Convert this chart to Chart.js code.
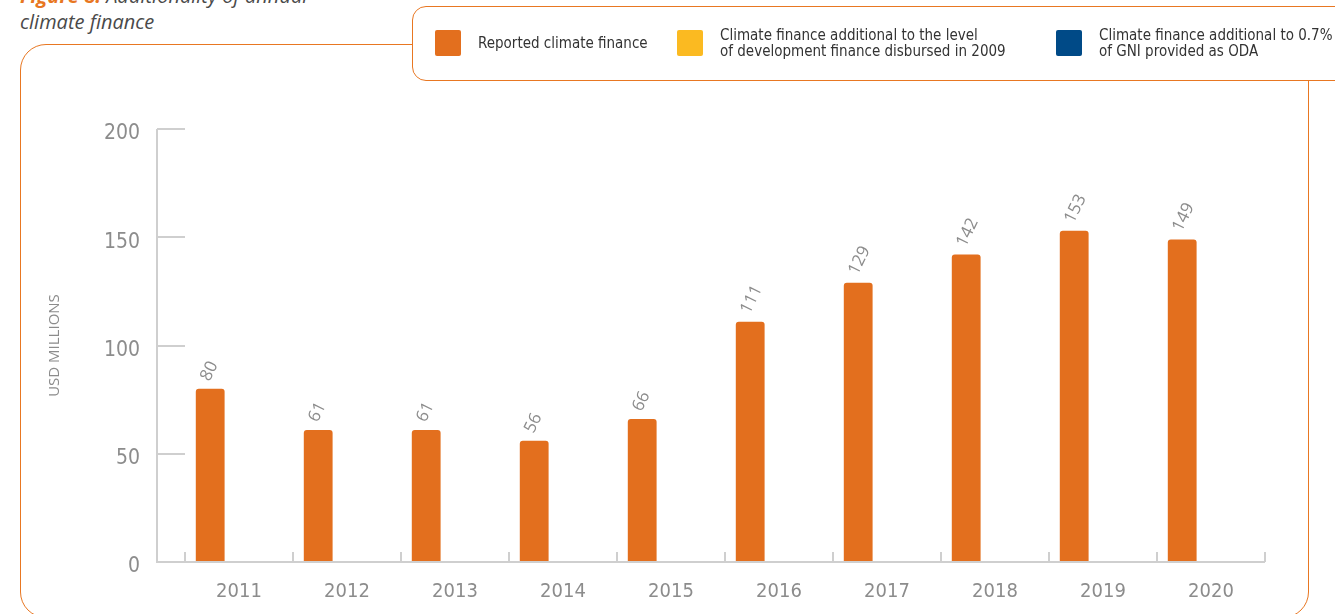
<!DOCTYPE html>
<html>
<head>
<meta charset="utf-8">
<script src="https://cdn.jsdelivr.net/npm/chart.js@4/dist/chart.umd.min.js"></script>
<style>
  body { margin: 0; background: #fff; overflow: hidden; }
  #wrap { position: relative; width: 1335px; height: 614px; }
  #title { position: absolute; left: 20px; top: -17px; font-family: "Open Sans", "Liberation Sans", sans-serif;
           font-style: italic; font-size: 20px; line-height: 26px; color: #4a4a4a; }
  #title b { color: #E87722; }
  #frame { position: absolute; left: 20px; top: 44px; width: 1289px; height: 574px;
           border: 1.5px solid #E87722; border-radius: 26px; box-sizing: border-box; }
  #legend { position: absolute; left: 412px; top: 6px; width: 960px; height: 75px; background: #fff;
            border: 1.5px solid #E87722; border-radius: 14px; box-sizing: border-box;
            font-family: "Liberation Sans Narrow", "DejaVu Sans Condensed", "Roboto", sans-serif;
            font-size: 15px; line-height: 16px; color: #333; }
  .item { position: absolute; top: 0; height: 72px; display: flex; align-items: center; }
  .sw { width: 26px; height: 26px; border-radius: 2px; margin-right: 17px; flex: none; }
  canvas { position: absolute; left: 0; top: 0; }
</style>
</head>
<body>
<div id="wrap">
  <div id="title"><b>Figure 8:</b> Additionality of annual<br>climate finance</div>
  <div id="frame"></div>
  <canvas id="climateChart" width="1335" height="614"></canvas>
  <div id="legend"></div>
</div>
<script>
const years = ["2011", "2012", "2013", "2014", "2015", "2016", "2017", "2018", "2019", "2020"];
const reported = [80, 61, 61, 56, 66, 111, 129, 142, 153, 149];
const additional2009 = [null, null, null, null, null, null, null, null, null, null];
const additionalODA = [null, null, null, null, null, null, null, null, null, null];
const seriesNames = [
  ["Reported climate finance"],
  ["Climate finance additional to the level", "of development finance disbursed in 2009"],
  ["Climate finance additional to 0.7%", "of GNI provided as ODA"]
];
const seriesColors = ["#E36F1E", "#FBBA21", "#004A87"];
const yTicks = [0, 50, 100, 150, 200];

// html legend (two-line labels)
const legendX = [22, 264, 643];
const legend = document.getElementById('legend');
seriesNames.forEach((lines, i) => {
  const div = document.createElement('div');
  div.className = 'item';
  div.style.left = legendX[i] + 'px';
  div.innerHTML = '<span class="sw" style="background:' + seriesColors[i] + '"></span><span>' + lines.join('<br>') + '</span>';
  legend.appendChild(div);
});

const grey = "#8c8c8c";
const lineGrey = "#cfcfcf";
const narrow = '"Liberation Sans Narrow", "DejaVu Sans Condensed", sans-serif';

// rotated value labels above bars
const valueLabels = {
  id: 'valueLabels',
  afterDatasetsDraw(chart) {
    const ctx = chart.ctx;
    const meta = chart.getDatasetMeta(0);
    ctx.save();
    ctx.fillStyle = grey;
    ctx.font = '17px "Open Sans", sans-serif';
    ctx.textAlign = 'left';
    ctx.textBaseline = 'middle';
    meta.data.forEach((bar, i) => {
      ctx.save();
      ctx.translate(bar.x - 5, bar.y - 9);
      ctx.rotate(-64 * Math.PI / 180);
      ctx.fillText(String(reported[i]), 0, 0);
      ctx.restore();
    });
    ctx.restore();
  }
};

// vertical axis line and x axis line start left of the plot, as in the original
const axisFrame = {
  id: 'axisFrame',
  beforeDatasetsDraw(chart) {
    const { ctx, scales: { x, y } } = chart;
    const left = y.right - 28;
    const bottom = y.getPixelForValue(0);
    ctx.save();
    ctx.strokeStyle = lineGrey;
    ctx.lineWidth = 2;
    ctx.beginPath();
    ctx.moveTo(left, y.getPixelForValue(200));
    ctx.lineTo(left, bottom);
    ctx.lineTo(x.right, bottom);
    ctx.stroke();
    ctx.restore();
  }
};

new Chart(document.getElementById('climateChart'), {
  type: 'bar',
  data: {
    labels: years,
    datasets: [
      { label: seriesNames[0].join(' '), data: reported, backgroundColor: seriesColors[0] },
      { label: seriesNames[1].join(' '), data: additional2009, backgroundColor: seriesColors[1] },
      { label: seriesNames[2].join(' '), data: additionalODA, backgroundColor: seriesColors[2] }
    ]
  },
  options: {
    responsive: false,
    animation: false,
    layout: { padding: { left: 25, right: 70, top: 129, bottom: 12 } },
    datasets: {
      bar: { categoryPercentage: 0.8, barPercentage: 1.0, borderRadius: { topLeft: 3, topRight: 3 } }
    },
    plugins: { legend: { display: false }, tooltip: { enabled: false } },
    scales: {
      x: {
        afterFit(scale) { scale.height = 40; },
        border: { display: false },
        grid: { drawOnChartArea: false, tickLength: -10, color: lineGrey, lineWidth: 2 },
        ticks: { color: grey, padding: 28, font: { family: narrow, size: 20 } }
      },
      y: {
        min: 0, max: 200,
        afterFit(scale) { scale.width = 160; },
        afterBuildTicks(scale) { scale.ticks = yTicks.map(v => ({ value: v })); },
        border: { display: false },
        grid: { drawOnChartArea: false, tickLength: 28, color: lineGrey, lineWidth: 2 },
        ticks: { color: grey, padding: 17, labelOffset: 5, font: { family: narrow, size: 21 } },
        title: { display: true, text: 'USD MILLIONS', color: grey, padding: { top: 21 },
                 font: { family: '"Open Sans", sans-serif', size: 15 } }
      }
    }
  },
  plugins: [axisFrame, valueLabels]
});
</script>
</body>
</html>
